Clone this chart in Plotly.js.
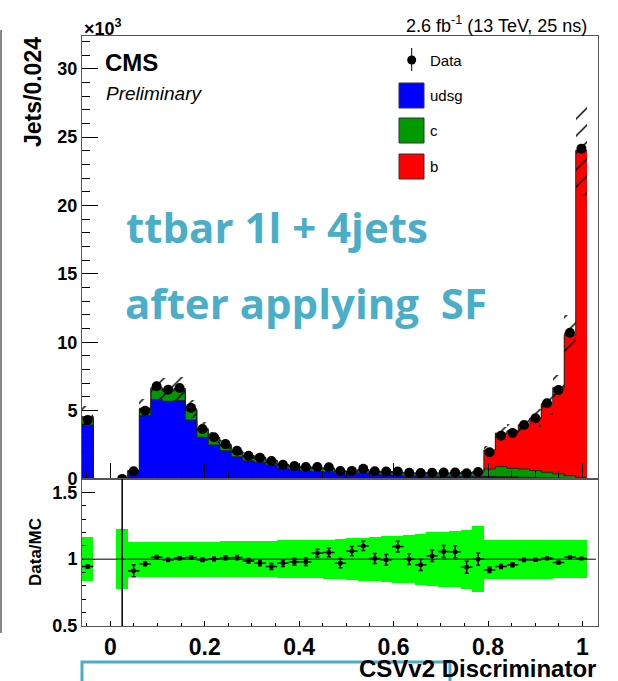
<!DOCTYPE html>
<html>
<head>
<meta charset="utf-8">
<script src="https://cdn.plot.ly/plotly-3.0.1.min.js"></script>
<style>html,body{margin:0;padding:0;background:#fff;}#chart{width:618px;height:681px;}</style>
</head>
<body>
<div id="chart"></div>
<script>
// ---- data (values in thousands of jets, bins of CSVv2 discriminator) ----
const binLow = -0.06;
const binWidth = 0.02432;
const udsg = [3.95, 0, 0, 0.010, 0.58, 4.63, 5.80, 5.68, 5.73, 4.32, 3.05, 2.49, 2.07, 1.63, 1.34, 1.22, 1.02, 0.80, 0.68, 0.60, 0.55, 0.53, 0.40, 0.37, 0.44, 0.33, 0.32, 0.27, 0.23, 0.22, 0.21, 0.20, 0.20, 0.19, 0.19, 0.19, 0.17, 0.15, 0.12, 0.10, 0.08, 0.06, 0.04, 0.02];
const charm = [0.46, 0, 0, 0.003, 0.03, 0.44, 0.78, 0.75, 0.77, 0.70, 0.52, 0.45, 0.37, 0.33, 0.30, 0.30, 0.28, 0.20, 0.21, 0.21, 0.20, 0.20, 0.14, 0.13, 0.17, 0.16, 0.16, 0.16, 0.15, 0.16, 0.17, 0.18, 0.19, 0.22, 0.30, 0.54, 0.73, 0.63, 0.61, 0.51, 0.41, 0.31, 0.20, 0.10];
const bottom = [0.15, 0, 0, 0.002, 0.01, 0.10, 0.10, 0.12, 0.12, 0.12, 0.11, 0.10, 0.09, 0.09, 0.08, 0.08, 0.08, 0.07, 0.07, 0.07, 0.07, 0.07, 0.06, 0.06, 0.08, 0.07, 0.07, 0.07, 0.07, 0.07, 0.07, 0.06, 0.06, 0.05, 0.04, 1.39, 2.45, 2.74, 3.24, 3.85, 5.01, 6.31, 10.29, 23.92];
const dataVals = [4.32, null, null, 0.005, 0.57, 4.99, 6.78, 6.52, 6.66, 5.20, 3.66, 3.05, 2.55, 2.07, 1.70, 1.56, 1.31, 1.04, 0.94, 0.87, 0.88, 0.86, 0.58, 0.59, 0.75, 0.56, 0.55, 0.55, 0.45, 0.43, 0.46, 0.47, 0.47, 0.42, 0.51, 1.95, 3.17, 3.37, 3.95, 4.44, 5.54, 6.51, 10.69, 24.16];
const mcUnc = [0.165, 0, 0, 0.225, 0.13, 0.13, 0.13, 0.13, 0.13, 0.13, 0.13, 0.13, 0.135, 0.135, 0.135, 0.135, 0.135, 0.14, 0.14, 0.14, 0.14, 0.145, 0.15, 0.155, 0.16, 0.165, 0.17, 0.175, 0.18, 0.19, 0.20, 0.205, 0.21, 0.22, 0.245, 0.145, 0.145, 0.145, 0.145, 0.145, 0.145, 0.14, 0.14, 0.14];
const ratio = [0.945, null, null, 0.40, 0.913, 0.965, 1.015, 0.995, 1.007, 1.012, 0.995, 1.002, 1.010, 1.012, 0.987, 0.970, 0.945, 0.970, 0.980, 0.980, 1.045, 1.050, 0.970, 1.060, 1.099, 1.005, 0.995, 1.094, 1.000, 0.958, 1.025, 1.057, 1.055, 0.940, 1.000, 0.920, 0.945, 0.958, 0.995, 0.995, 1.007, 0.975, 1.015, 1.005];
const ratioErr = [0.012, null, null, 1.5, 0.045, 0.015, 0.012, 0.012, 0.012, 0.012, 0.013, 0.014, 0.015, 0.016, 0.018, 0.020, 0.022, 0.024, 0.026, 0.028, 0.030, 0.032, 0.035, 0.035, 0.035, 0.038, 0.040, 0.040, 0.040, 0.042, 0.042, 0.045, 0.045, 0.045, 0.045, 0.020, 0.015, 0.015, 0.012, 0.010, 0.010, 0.010, 0.008, 0.006];

// ---- derived ----
const nB = udsg.length;
const centers = udsg.map((_, i) => binLow + binWidth * (i + 0.5));
const edges = Array.from({length: nB + 1}, (_, i) => binLow + binWidth * i);
const s1 = udsg.slice();
const s2 = udsg.map((v, i) => v + charm[i]);
const tot = s2.map((v, i) => v + bottom[i]);
const stepY = arr => arr.concat([arr[arr.length - 1]]);
const widths = centers.map(() => binWidth);

const FONT = 'Liberation Sans, Arial, sans-serif';
// pixel -> paper helpers (plot area: x 82..598, y 36..626)
const L = 82, R = 598, T = 36, B = 626;
const px = x => (x - L) / (R - L);
const py = y => (B - y) / (B - T);

const traces = [
  {type: 'bar', x: centers, y: udsg, base: centers.map(() => 0), width: widths, xaxis: 'x', yaxis: 'y',
   marker: {color: '#0000ff', line: {width: 0}}, hoverinfo: 'skip'},
  {type: 'bar', x: centers, y: charm, base: s1, width: widths, xaxis: 'x', yaxis: 'y',
   marker: {color: '#009900', line: {width: 0}}, hoverinfo: 'skip'},
  {type: 'bar', x: centers, y: bottom, base: s2, width: widths, xaxis: 'x', yaxis: 'y',
   marker: {color: '#ff0000', line: {width: 0}}, hoverinfo: 'skip'},
  {type: 'scatter', mode: 'lines', x: edges, y: stepY(s1), line: {shape: 'hv', color: '#222', width: 1}, xaxis: 'x', yaxis: 'y', hoverinfo: 'skip'},
  {type: 'scatter', mode: 'lines', x: edges, y: stepY(s2), line: {shape: 'hv', color: '#222', width: 1}, xaxis: 'x', yaxis: 'y', hoverinfo: 'skip'},
  {type: 'scatter', mode: 'lines', x: edges, y: stepY(tot), line: {shape: 'hv', color: '#222', width: 1}, xaxis: 'x', yaxis: 'y', hoverinfo: 'skip'},
  {type: 'bar', x: centers, y: tot.map((v, i) => 2 * v * mcUnc[i]), base: tot.map((v, i) => v * (1 - mcUnc[i])), width: widths,
   xaxis: 'x', yaxis: 'y', hoverinfo: 'skip',
   marker: {color: 'rgba(0,0,0,0)', line: {width: 0},
            pattern: {shape: '/', fgcolor: '#000', fgopacity: 1, bgcolor: 'rgba(0,0,0,0)', fillmode: 'overlay', size: 12, solidity: 0.12}}},
  {type: 'scatter', mode: 'markers', x: centers, y: dataVals, xaxis: 'x', yaxis: 'y',
   marker: {symbol: 'circle', size: 10, color: '#000'}, hoverinfo: 'skip'},
  // ratio panel
  {type: 'bar', x: centers, y: mcUnc.map(u => 2 * u), base: mcUnc.map(u => 1 - u), width: widths,
   xaxis: 'x2', yaxis: 'y2', marker: {color: '#00ff00', line: {width: 0}}, hoverinfo: 'skip'},
  {type: 'scatter', mode: 'markers', x: centers, y: ratio, xaxis: 'x2', yaxis: 'y2',
   marker: {symbol: 'square', size: 4, color: '#000'},
   error_y: {type: 'data', array: ratioErr, visible: true, color: '#000', thickness: 1.5, width: 2},
   error_x: {type: 'constant', value: binWidth / 2, visible: true, color: '#000', thickness: 1.5, width: 0},
   hoverinfo: 'skip'}
];

const axisCommon = {showgrid: false, zeroline: false, showline: true, mirror: true, linecolor: '#555', linewidth: 1,
  ticks: 'inside', tickcolor: '#000', tickfont: {family: FONT, size: 18, color: '#000', weight: 'bold'}};

const layout = {
  width: 618, height: 681,
  margin: {l: L, r: 618 - R, t: T, b: 681 - B, pad: 0},
  paper_bgcolor: '#fff', plot_bgcolor: '#fff',
  showlegend: false, barmode: 'overlay', bargap: 0,
  xaxis: Object.assign({}, axisCommon, {domain: [0, 1], anchor: 'y', range: [-0.06, 1.033], tick0: 0, dtick: 0.2,
    ticklen: 16, showticklabels: false,
    minor: {tick0: 0, dtick: 0.05, ticks: 'inside', ticklen: 8, tickcolor: '#000'}}),
  yaxis: Object.assign({}, axisCommon, {domain: [0.2492, 1], anchor: 'x', range: [0, 32.4], tick0: 0, dtick: 5,
    ticklen: 16, minor: {tick0: 0, dtick: 1, ticks: 'inside', ticklen: 8, tickcolor: '#000'}}),
  xaxis2: Object.assign({}, axisCommon, {domain: [0, 1], anchor: 'y2', range: [-0.06, 1.033], tick0: 0, dtick: 0.2,
    ticklen: 5, tickfont: {family: FONT, size: 23, color: '#000', weight: 'bold'},
    minor: {tick0: 0, dtick: 0.05, ticks: 'inside', ticklen: 3, tickcolor: '#000'}}),
  yaxis2: Object.assign({}, axisCommon, {domain: [0, 0.2492], anchor: 'x2', range: [0.5, 1.6], tick0: 0.5, dtick: 0.5,
    ticklen: 13, minor: {tick0: 0.5, dtick: 0.1, ticks: 'inside', ticklen: 4, tickcolor: '#000'}}),
  shapes: [
    {type: 'line', xref: 'x2 domain', yref: 'y2', x0: 0, x1: 0.996, y0: 1, y1: 1, line: {color: '#000', width: 1}},
    // legend boxes
    {type: 'rect', xref: 'paper', yref: 'paper', x0: px(399), x1: px(424), y0: py(83), y1: py(108), fillcolor: '#0000ff', line: {color: '#333', width: 1}},
    {type: 'rect', xref: 'paper', yref: 'paper', x0: px(399), x1: px(424), y0: py(118), y1: py(143), fillcolor: '#009900', line: {color: '#333', width: 1}},
    {type: 'rect', xref: 'paper', yref: 'paper', x0: px(399), x1: px(424), y0: py(154), y1: py(179), fillcolor: '#ff0000', line: {color: '#333', width: 1}},
    {type: 'line', xref: 'paper', yref: 'paper', x0: px(411.7), x1: px(411.7), y0: py(48), y1: py(71), line: {color: '#000', width: 1}},
    {type: 'circle', xref: 'paper', yref: 'paper', x0: px(407.2), x1: px(416.2), y0: py(55.5), y1: py(64.5), fillcolor: '#000', line: {color: '#000', width: 0}},
    // page decorations
    {type: 'line', xref: 'paper', yref: 'paper', x0: px(1), x1: px(1), y0: py(30), y1: py(633), line: {color: '#888', width: 2}},
    {type: 'rect', xref: 'paper', yref: 'paper', x0: px(82), x1: px(450), y0: py(700), y1: py(662), line: {color: '#4bacc6', width: 3}}
  ],
  annotations: [
    {xref: 'paper', yref: 'paper', x: px(82), y: py(28), xanchor: 'left', yanchor: 'middle', showarrow: false,
     text: '×10<sup>3</sup>', font: {family: FONT, size: 18, color: '#000', weight: 'bold'}},
    {xref: 'paper', yref: 'paper', x: px(589), y: py(24), xanchor: 'right', yanchor: 'middle', showarrow: false,
     text: '2.6 fb<sup>-1</sup> (13 TeV, 25 ns)', font: {family: FONT, size: 18, color: '#000'}},
    {xref: 'paper', yref: 'paper', x: px(103), y: py(63), xanchor: 'left', yanchor: 'middle', showarrow: false,
     text: 'CMS', font: {family: FONT, size: 24, color: '#000', weight: 'bold'}},
    {xref: 'paper', yref: 'paper', x: px(104), y: py(93), xanchor: 'left', yanchor: 'middle', showarrow: false,
     text: '<i>Preliminary</i>', font: {family: FONT, size: 19, color: '#000'}},
    {xref: 'paper', yref: 'paper', x: px(33), y: py(92), xanchor: 'center', yanchor: 'middle', showarrow: false, textangle: -90,
     text: 'Jets/0.024', font: {family: FONT, size: 23, color: '#000', weight: 'bold'}},
    {xref: 'paper', yref: 'paper', x: px(35), y: py(552), xanchor: 'center', yanchor: 'middle', showarrow: false, textangle: -90,
     text: 'Data/MC', font: {family: FONT, size: 17, color: '#000', weight: 'bold'}},
    {xref: 'paper', yref: 'paper', x: px(598), y: py(668), xanchor: 'right', yanchor: 'middle', showarrow: false,
     text: 'CSVv2 Discriminator', font: {family: FONT, size: 24, color: '#000', weight: 'bold'}},
    {xref: 'paper', yref: 'paper', x: px(428), y: py(60), xanchor: 'left', yanchor: 'middle', showarrow: false,
     text: 'Data', font: {family: FONT, size: 15, color: '#000'}},
    {xref: 'paper', yref: 'paper', x: px(428), y: py(95.5), xanchor: 'left', yanchor: 'middle', showarrow: false,
     text: 'udsg', font: {family: FONT, size: 15, color: '#000'}},
    {xref: 'paper', yref: 'paper', x: px(428), y: py(130.8), xanchor: 'left', yanchor: 'middle', showarrow: false,
     text: 'c', font: {family: FONT, size: 15, color: '#000'}},
    {xref: 'paper', yref: 'paper', x: px(428), y: py(166.5), xanchor: 'left', yanchor: 'middle', showarrow: false,
     text: 'b', font: {family: FONT, size: 15, color: '#000'}},
    {xref: 'paper', yref: 'paper', x: px(124), y: py(226), xanchor: 'left', yanchor: 'middle', showarrow: false,
     text: 'ttbar 1l + 4jets', font: {family: 'Open Sans, sans-serif', size: 42, color: '#4aaec8', weight: 700}},
    {xref: 'paper', yref: 'paper', x: px(123), y: py(302), xanchor: 'left', yanchor: 'middle', showarrow: false,
     text: 'after applying  SF', font: {family: 'Open Sans, sans-serif', size: 42, color: '#4aaec8', weight: 700}}
  ]
};

Plotly.newPlot('chart', traces, layout, {staticPlot: true, displayModeBar: false});
</script>
</body>
</html>
